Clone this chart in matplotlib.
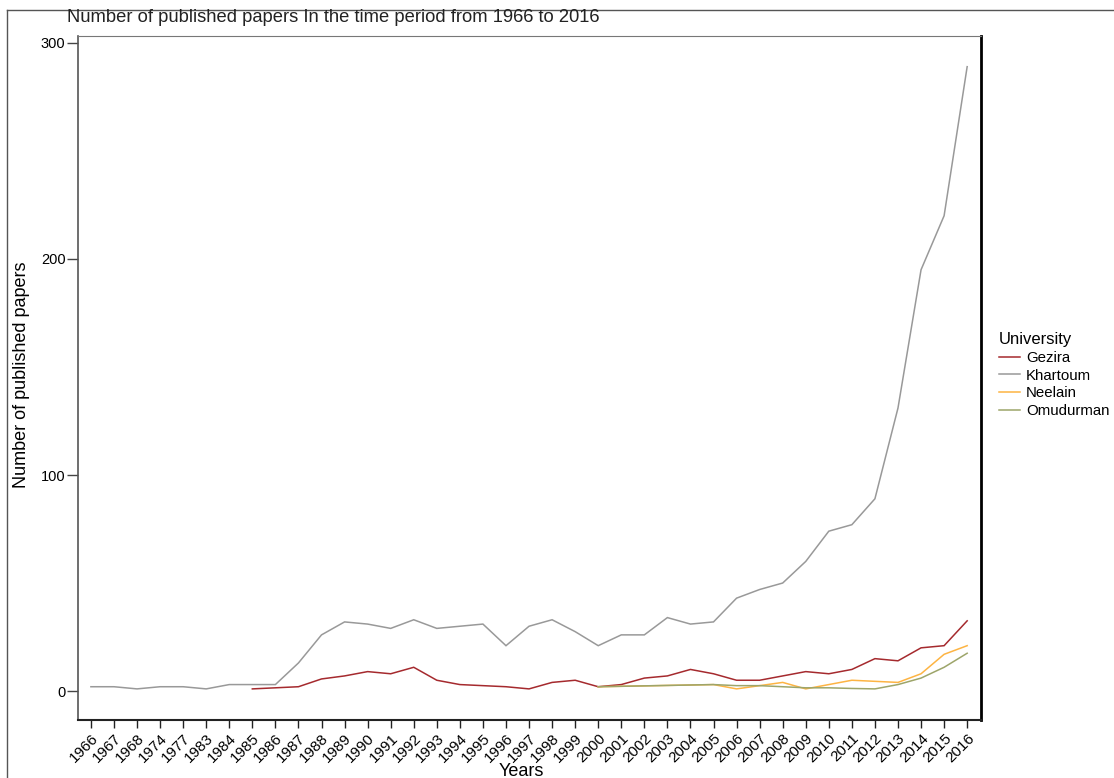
import matplotlib
matplotlib.use("Agg")
import matplotlib.pyplot as plt
import numpy as np
from matplotlib.lines import Line2D

plt.rcParams['font.family'] = ['Liberation Sans', 'DejaVu Sans']

years = ['1966', '1967', '1968', '1974', '1977', '1983', '1984', '1985', '1986', '1987',
         '1988', '1989', '1990', '1991', '1992', '1993', '1994', '1995', '1996', '1997',
         '1998', '1999', '2000', '2001', '2002', '2003', '2004', '2005', '2006', '2007',
         '2008', '2009', '2010', '2011', '2012', '2013', '2014', '2015', '2016']

khartoum_years = years
khartoum = [2, 2, 1, 2, 2, 1, 3, 3, 3, 13,
            26, 32, 31, 29, 33, 29, 30, 31, 21, 30,
            33, 27.5, 21, 26, 26, 34, 31, 32, 43, 47,
            50, 60, 74, 77, 89, 131, 195, 220, 289]

gezira_years = years[7:]
gezira = [1, 1.5, 2, 5.6, 7, 9, 8, 11, 5, 3,
          2.5, 2, 1, 4, 5, 2, 3, 6, 7, 10,
          8, 5, 5, 7, 9, 8, 10, 15, 14, 20,
          21, 32.5]

neelain_years = years[22:]
neelain = [2, 2.2, 2.4, 2.6, 2.8, 3, 1, 2.5, 4, 1, 3, 5, 4.5, 4, 8, 17, 21]

omudurman_years = years[22:]
omudurman = [2, 2.2, 2.4, 2.6, 2.8, 3, 2.5, 2.5, 2, 1.5, 1.5, 1.2, 1, 3, 6, 11, 17.5]

series = [
    ('Gezira', gezira_years, gezira, '#A52A2E'),
    ('Khartoum', khartoum_years, khartoum, '#999999'),
    ('Neelain', neelain_years, neelain, '#FDB443'),
    ('Omudurman', omudurman_years, omudurman, '#9DA56A'),
]

W, H = 1114, 778
fig = plt.figure(figsize=(W / 100, H / 100), dpi=100)
ax = fig.add_axes([78 / W, 1 - 720 / H, (981 - 78) / W, (720 - 36) / H])

pos = {y: i for i, y in enumerate(years)}
for name, yrs, vals, col in [series[1], series[0], series[2], series[3]]:
    ax.plot([pos[y] for y in yrs], vals, color=col, lw=1.1, solid_joinstyle='miter')

ax.set_xticks(range(len(years)))
ax.set_xticklabels(years, rotation=45, ha='right', rotation_mode='anchor', fontsize=11)
ax.set_xlim(-0.56, len(years) - 1 + 0.6)
ax.set_ylim(-13.4, 303.2)
ax.set_yticks([0, 100, 200, 300])
ax.tick_params(axis='y', labelsize=10.5, length=8, width=1, color='#444444', pad=1)
ax.tick_params(axis='x', length=6, width=1, color='#222222', pad=2)

ax.spines['left'].set_color('#555555')
ax.spines['left'].set_linewidth(1.2)
ax.spines['bottom'].set_color('#222222')
ax.spines['bottom'].set_linewidth(1.5)
ax.spines['right'].set_color('black')
ax.spines['right'].set_linewidth(2)
ax.spines['top'].set_color('#777777')
ax.spines['top'].set_linewidth(0.8)

fig.text(67 / W, 1 - 18 / H, 'Number of published papers In the time period from 1966 to 2016',
         fontsize=13.2, ha='left', va='center', color='#222222')
fig.text(22 / W, 1 - 375 / H, 'Number of published papers', rotation=90,
         fontsize=13, ha='center', va='center')
fig.text(521 / W, 1 - 771 / H, 'Years', fontsize=13, ha='center', va='center')

fig.add_artist(Line2D([7 / W, 1], [1 - 10 / H, 1 - 10 / H], transform=fig.transFigure,
                      color='#555555', lw=1))
fig.add_artist(Line2D([7 / W, 7 / W], [0, 1 - 10 / H], transform=fig.transFigure,
                      color='#555555', lw=1))

handles = [Line2D([], [], color=c, lw=1.1) for _, _, _, c in series]
labels = [n for n, _, _, _ in series]
leg = fig.legend(handles, labels, title='University', loc='upper left',
                 bbox_to_anchor=(999 / W, 1 - 332 / H), frameon=False,
                 fontsize=10.8, title_fontsize=12, handlelength=1.4,
                 handletextpad=0.4, labelspacing=0.25, alignment='left',
                 borderaxespad=0, borderpad=0)

fig.savefig('out.png', dpi=100)
